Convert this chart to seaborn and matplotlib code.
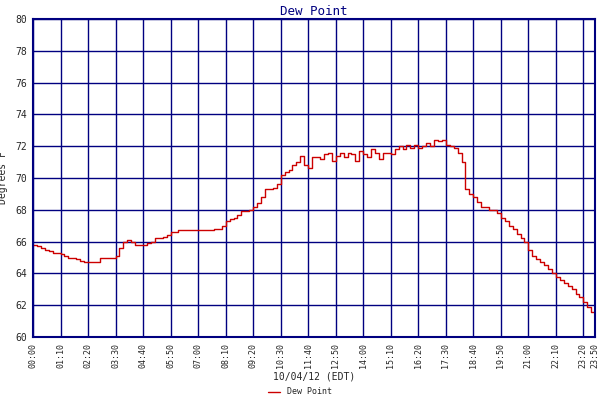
import matplotlib
matplotlib.use('Agg')
import matplotlib.pyplot as plt
import seaborn as sns
import pandas as pd

# dew point every 10 minutes, 00:00 .. 23:50
dew_point = [
    65.8, 65.7, 65.6, 65.5, 65.4, 65.3,
    65.3, 65.2, 65.1, 65.0, 65.0, 64.9,
    64.8, 64.7, 64.7, 64.7, 64.7, 65.0,
    65.0, 65.0, 65.0, 65.1, 65.6, 66.0,
    66.1, 66.0, 65.8, 65.8, 65.8, 65.9,
    66.0, 66.2, 66.2, 66.3, 66.4, 66.6,
    66.6, 66.7, 66.7, 66.7, 66.7, 66.7,
    66.7, 66.7, 66.7, 66.7, 66.8, 66.8,
    67.0, 67.3, 67.4, 67.5, 67.7, 67.9,
    67.9, 68.0, 68.2, 68.4, 68.8, 69.3,
    69.3, 69.4, 69.6, 70.2, 70.4, 70.5,
    70.8, 71.0, 71.4, 70.8, 70.6, 71.3,
    71.3, 71.2, 71.5, 71.6, 71.1, 71.4,
    71.6, 71.3, 71.6, 71.5, 71.1, 71.7,
    71.5, 71.3, 71.8, 71.6, 71.2, 71.6,
    71.6, 71.5, 71.8, 72.0, 71.8, 72.1,
    71.9, 72.1, 71.9, 72.0, 72.2, 72.0,
    72.4, 72.3, 72.4, 72.1, 72.0, 71.9,
    71.6, 71.0, 69.3, 69.0, 68.8, 68.5,
    68.2, 68.2, 68.0, 68.0, 67.8, 67.5,
    67.3, 67.0, 66.8, 66.5, 66.2, 66.0,
    65.5, 65.1, 64.9, 64.7, 64.5, 64.3,
    64.0, 63.8, 63.6, 63.4, 63.2, 63.0,
    62.7, 62.5, 62.2, 61.9, 61.6, 61.2,
]
minutes = [i * 10 for i in range(len(dew_point))]
tick_minutes = list(range(0, 1401, 70)) + [1430]
tick_labels = ['%02d:%02d' % (m // 60, m % 60) for m in tick_minutes]

df = pd.DataFrame({'minute': minutes, 'Dew Point': dew_point})

sns.set_style('white')
plt.rcParams['font.family'] = ['DejaVu Sans Mono']

fig = plt.figure(figsize=(6, 4), dpi=100)
ax = fig.add_axes([0.055, 0.1575, 0.937, 0.795])
sns.lineplot(data=df, x='minute', y='Dew Point', color='#cc0000', lw=1,
             drawstyle='steps-post', ax=ax, label='Dew Point', legend=False)

ax.set_xlim(0, 1430)
ax.set_ylim(60, 80)
ax.set_yticks(range(60, 81, 2))
ax.set_xticks(tick_minutes)
ax.set_xticklabels(tick_labels, rotation=90, fontsize=6)
ax.tick_params(axis='y', labelsize=7, pad=2, length=2)
ax.tick_params(axis='x', pad=2, length=2)
ax.grid(True, color='#000080', lw=1)
for s in ax.spines.values():
    s.set_color('#000080')
    s.set_linewidth(1.5)
ax.set_title('Dew Point', color='#000080', fontsize=9, pad=3)
ax.set_ylabel('Degrees F', fontsize=7)
ax.yaxis.set_label_coords(-0.045, 0.5)
ax.set_xlabel('10/04/12 (EDT)', fontsize=7, labelpad=3)
fig.legend(loc='lower center', bbox_to_anchor=(0.5, -0.01), frameon=False,
           fontsize=6, handlelength=1.5)

fig.savefig('out.png', dpi=100)
